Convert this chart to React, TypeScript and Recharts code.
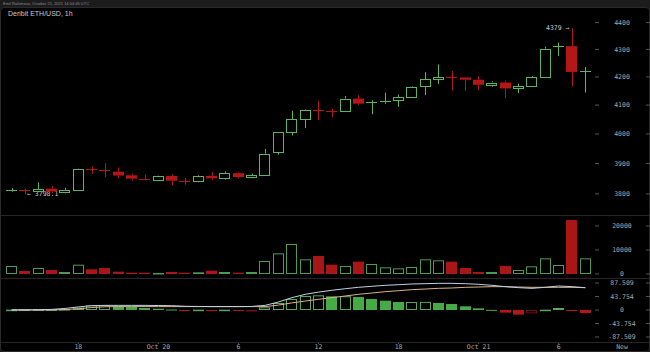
import React from 'react';
import { ComposedChart, Bar, Line, XAxis, YAxis } from 'recharts';

// hourly candles, Oct 19 13:00 -> Oct 21 08:00
const opens = [3810, 3812, 3809, 3817, 3806, 3812, 3881, 3879, 3873, 3861, 3850, 3846, 3859, 3843, 3840, 3859, 3851, 3868, 3855, 3862, 3936, 4006, 4053, 4084, 4081, 4080, 4123, 4105, 4110, 4119, 4128, 4165, 4191, 4200, 4198, 4190, 4172, 4180, 4159, 4167, 4200, 4305, 4312, 4218];
const highs = [3819, 3817, 3838, 3825, 3820, 3883, 3890, 3901, 3887, 3866, 3864, 3860, 3864, 3852, 3861, 3872, 3874, 3871, 3866, 3949, 4006, 4080, 4085, 4115, 4087, 4132, 4135, 4117, 4144, 4137, 4166, 4217, 4245, 4221, 4199, 4202, 4184, 4187, 4176, 4203, 4310, 4325, 4379, 4236];
const lows = [3807, 3798.1, 3807, 3803, 3802, 3811, 3866, 3855, 3852, 3844, 3844, 3842, 3828, 3830, 3838, 3846, 3847, 3851, 3851, 3861, 3930, 3995, 4020, 4048, 4059, 4077, 4100, 4068, 4104, 4094, 4125, 4135, 4175, 4151, 4150, 4153, 4165, 4124, 4142, 4165, 4199, 4276, 4167, 4144];
const closes = [3812, 3809, 3816, 3808, 3813, 3882, 3878, 3876, 3860, 3850, 3848, 3859, 3843, 3840, 3858, 3851, 3868, 3855, 3862, 3933, 4005, 4051, 4083, 4082, 4078, 4123, 4105, 4110, 4116, 4128, 4164, 4191, 4199, 4198, 4190, 4172, 4180, 4159, 4167, 4200, 4303, 4312, 4218, 4220];
const volumes = [3333, 1250, 2500, 1667, 833, 3875, 1944, 2500, 972, 556, 556, 417, 833, 556, 694, 1389, 833, 556, 833, 5417, 8611, 12500, 6111, 7500, 3889, 3333, 5139, 4167, 2778, 2361, 2917, 6111, 5694, 5139, 2500, 833, 833, 3333, 1667, 3194, 6528, 3750, 22500, 6528];
const histogram = [1, 1.5, 2, 2, 3, 8, 15, 15.3, 12, 9.7, 6.5, 4.3, 1.5, -1, 1, -1, 1, -1, -1, 8.6, 22.7, 35.6, 45.4, 47.5, 44.3, 44.6, 42, 35.6, 30.2, 26, 26, 26.3, 22.7, 19.4, 12, 5.4, 0.5, -8.6, -15, -10.8, 1, 6.5, -1, -9.7];
const macdLine = [0.5, 0.5, 1, 2, 5, 10, 14, 15, 15, 15, 15, 14.5, 14, 12, 11.5, 11, 11, 11, 11.5, 15, 26, 40, 50.8, 58, 63.8, 69, 73.5, 76.8, 80, 82, 84.3, 85.3, 86.4, 86.4, 85.3, 83.2, 80, 75.6, 72.4, 70.2, 73.5, 77.8, 75.6, 72.4];
const signalLine = [0, 0, 0, 0, 1.5, 4, 8, 10.5, 11, 11, 11, 11, 11, 11, 11, 11, 11, 11, 11, 11, 16, 23, 29, 34.6, 40, 45.4, 50.8, 55, 59.4, 62.6, 65.9, 68, 70.2, 71.3, 73.5, 74.5, 75.6, 75.6, 74.5, 73.5, 73.5, 73.5, 73.5, 72.4];

const priceTicks = [3800, 3900, 4000, 4100, 4200, 4300, 4400];
const volumeTicks = [0, 10000, 20000];
const oscTicks = [-87.509, -43.754, 0, 43.754, 87.509];
const timeTickIdx = [5, 11, 17, 23, 29, 35, 41];
const timeTickLabels = ['18', 'Oct 20', '6', '12', '18', 'Oct 21', '6'];

const data = opens.map((open, i) => ({
    i,
    open,
    high: highs[i],
    low: lows[i],
    close: closes[i],
    range: [lows[i], highs[i]],
    volume: volumes[i],
    hist: histogram[i],
    prevHist: i > 0 ? histogram[i - 1] : 0,
    macd: macdLine[i],
    signal: signalLine[i]
}));

const maxHigh = Math.max(...highs);
const minLow = Math.min(...lows);

const GREEN = '#5db561';
const RED = '#b51717';
const MONO = '"DejaVu Sans Mono", monospace';

const Candle = (props: any) => {
    const { x, y, width, height, payload } = props;
    const { open, close, high, low } = payload;
    const up = close >= open;
    const lh = Math.log(high);
    const span = lh - Math.log(low) || 1;
    const py = (p: number) => y + (height * (lh - Math.log(p))) / span;
    const cx = Math.round(x + width / 2) + 0.5;
    const top = py(Math.max(open, close));
    const bot = py(Math.min(open, close));
    const color = up ? GREEN : RED;
    const bx = Math.round(x);
    const w = Math.round(width);
    const thin = bot - top < 2;

    return (
        <g>
            <line x1={cx} x2={cx} y1={y} y2={thin ? y + height : top} stroke={color} />
            {!thin && <line x1={cx} x2={cx} y1={bot} y2={y + height} stroke={color} />}
            {thin ? (
                <line x1={bx} x2={bx + w} y1={Math.round(top) + 0.5} y2={Math.round(top) + 0.5} stroke={color} />
            ) : up ? (
                <rect x={bx + 0.5} y={Math.round(top) + 0.5} width={w - 1} height={Math.round(bot - top)} fill="#000" stroke={color} />
            ) : (
                <rect x={bx} y={top} width={w} height={bot - top} fill={color} />
            )}
            {high === maxHigh && (
                <text x={cx - 3} y={y} dy={2.3} textAnchor="end" fontSize={6.5} fontFamily={MONO} fill="#c8c8c8">
                    4379 →
                </text>
            )}
            {low === minLow && (
                <text x={cx + 1.5} y={y + height} dy={2} textAnchor="start" fontSize={6.5} fontFamily={MONO} fill="#c8c8c8">
                    ← 3798.1
                </text>
            )}
        </g>
    );
};

const VolumeBar = (props: any) => {
    const { x, y, width, height, payload } = props;
    const up = payload.close >= payload.open;
    const bx = Math.round(x);
    const w = Math.round(width);
    if (up) {
        return <rect x={bx + 0.5} y={y + 0.5} width={w - 1} height={Math.max(height - 1, 0.5)} fill="#000" stroke="#4f9a53" />;
    }
    return <rect x={bx} y={y} width={w} height={height} fill="#a81616" />;
};

const HistBar = (props: any) => {
    const { x, y, width, height, payload } = props;
    const top = Math.min(y, y + height);
    const h = Math.max(Math.abs(height), 1);
    const pos = payload.hist >= 0;
    const rising = payload.hist >= payload.prevHist;
    const bx = Math.round(x);
    const w = Math.round(width);
    if (rising) {
        return <rect x={bx + 0.5} y={top + 0.5} width={w - 1} height={Math.max(h - 1, 0.5)} fill="#000" stroke={pos ? '#5aa65d' : '#6e1212'} />;
    }
    return <rect x={bx} y={top} width={w} height={h} fill={pos ? '#46aa46' : '#b31818'} />;
};

const makeRightTick = (fmt: (v: number) => string) => (props: any) => {
    const { x, y, payload } = props;
    return (
        <g>
            <line x1={x + 3} x2={x + 7} y1={y} y2={y} stroke="#555" />
            <line x1={x + 54} x2={x + 58} y1={y} y2={y} stroke="#555" />
            <text x={x + 30} y={y} dy={2.3} textAnchor="middle" fontSize={6.5} fontFamily={MONO} fill="#a8a8a8">
                {fmt(payload.value)}
            </text>
        </g>
    );
};

const TimeTick = (props: any) => {
    const { x, y, payload } = props;
    const label = timeTickLabels[timeTickIdx.indexOf(payload.value)];
    return (
        <g>
            <line x1={x} x2={x} y1={y} y2={y + 2} stroke="#555" />
            <text x={x} y={y + 5} dy={2.3} textAnchor="middle" fontSize={6.5} fontFamily={MONO} fill="#a8a8a8">
                {label}
            </text>
        </g>
    );
};

const noMargin = { top: 0, right: 0, bottom: 0, left: 5 };

const sep = (top: number) => (
    <div style={{ position: 'absolute', left: 1, width: 648, top, height: 1, background: '#262626' }} />
);

const App = () => (
    <div style={{ position: 'absolute', left: 0, top: 0, width: 650, height: 352, background: '#1c1c1c', overflow: 'hidden' }}>
        <div style={{ position: 'absolute', left: 3, top: 1, fontSize: 4, color: '#8a8a8a', fontFamily: '"Liberation Sans", sans-serif', whiteSpace: 'nowrap' }}>
            Emil Rahimova, October 21, 2021 14:04:46 UTC
        </div>
        <div style={{ position: 'absolute', left: 0, top: 7, width: 648, height: 343, background: '#000', border: '1px solid #2a2a2a', borderRadius: 4 }} />

        <div style={{ position: 'absolute', left: 0, top: 7 }}>
            <ComposedChart width={650} height={208} data={data} margin={noMargin}>
                <XAxis dataKey="i" hide />
                <YAxis
                    orientation="right"
                    width={58}
                    scale="log"
                    domain={[3732, 4459]}
                    allowDataOverflow
                    ticks={priceTicks}
                    interval={0}
                    axisLine={false}
                    tickLine={false}
                    tickSize={0}
                    tickMargin={0}
                    tick={makeRightTick(v => String(v))}
                />
                <Bar dataKey="range" barSize={11} shape={<Candle />} isAnimationActive={false} />
            </ComposedChart>
        </div>

        <div style={{ position: 'absolute', left: 0, top: 215 }}>
            <ComposedChart width={650} height={63} data={data} margin={noMargin}>
                <XAxis dataKey="i" hide />
                <YAxis
                    orientation="right"
                    width={58}
                    domain={[-1667, 24583]}
                    allowDataOverflow
                    ticks={volumeTicks}
                    interval={0}
                    axisLine={false}
                    tickLine={false}
                    tickSize={0}
                    tickMargin={0}
                    tick={makeRightTick(v => String(v))}
                />
                <Bar dataKey="volume" barSize={11} shape={<VolumeBar />} isAnimationActive={false} />
            </ComposedChart>
        </div>

        <div style={{ position: 'absolute', left: 0, top: 278 }}>
            <ComposedChart width={650} height={74} data={data} margin={noMargin}>
                <XAxis
                    dataKey="i"
                    height={10}
                    ticks={timeTickIdx}
                    interval={0}
                    axisLine={false}
                    tickLine={false}
                    tickSize={0}
                    tickMargin={0}
                    tick={<TimeTick />}
                />
                <YAxis
                    orientation="right"
                    width={58}
                    domain={[-103.7, 103.7]}
                    allowDataOverflow
                    ticks={oscTicks}
                    interval={0}
                    axisLine={false}
                    tickLine={false}
                    tickSize={0}
                    tickMargin={0}
                    tick={makeRightTick(v => v.toFixed(3).replace('.000', ''))}
                />
                <Bar dataKey="hist" barSize={11} shape={<HistBar />} isAnimationActive={false} />
                <Line dataKey="signal" type="linear" stroke="#d8b48c" strokeWidth={1} dot={false} isAnimationActive={false} />
                <Line dataKey="macd" type="linear" stroke="#c2d0e2" strokeWidth={1} dot={false} isAnimationActive={false} />
            </ComposedChart>
        </div>

        {sep(215)}
        {sep(278)}
        {sep(342)}

        <div style={{ position: 'absolute', left: 8, top: 10, fontSize: 7, color: '#c8c8c8', fontFamily: '"Liberation Sans", sans-serif', whiteSpace: 'nowrap' }}>
            Deribit ETH/USD, 1h
        </div>
        <div style={{ position: 'absolute', left: 612, top: 343, width: 20, textAlign: 'center', fontSize: 6.5, color: '#a8a8a8', fontFamily: MONO }}>
            New
        </div>
    </div>
);

export default App;
